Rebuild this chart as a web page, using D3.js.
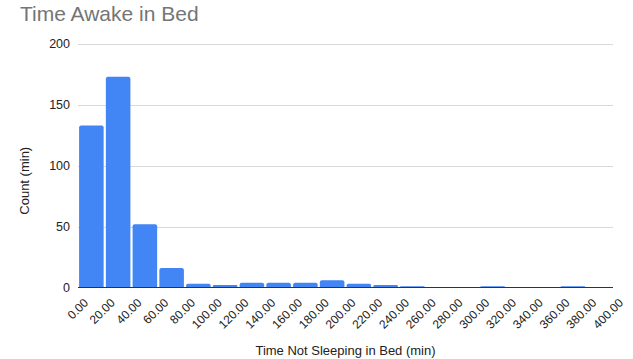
<!DOCTYPE html>
<html>
<head>
<meta charset="utf-8">
<script src="https://cdn.jsdelivr.net/npm/d3@7"></script>
<style>
  html, body { margin: 0; padding: 0; background: #fff; }
  svg { display: block; font-family: "Liberation Sans", Arial, sans-serif; }
</style>
</head>
<body>
<svg id="chart" width="633" height="359"></svg>
<script>
// Histogram bins: lower edges (min) and counts
const binStarts = [0, 20, 40, 60, 80, 100, 120, 140, 160, 180, 200, 220, 240, 260, 280, 300, 320, 340, 360, 380];
const counts    = [133, 173, 52, 16, 3, 2, 4, 4, 4, 6, 3, 2, 1, 0, 0, 1, 0, 0, 1, 0];
const xTickValues = [0, 20, 40, 60, 80, 100, 120, 140, 160, 180, 200, 220, 240, 260, 280, 300, 320, 340, 360, 380, 400];
const yTickValues = [0, 50, 100, 150, 200];

const binWidth = 20;
const svg = d3.select("#chart");
const plotLeft = 78, plotRight = 613, plotTop = 44, plotBottom = 287.5;

const x = d3.scaleLinear().domain([0, 400]).range([plotLeft, plotRight]);
const y = d3.scaleLinear().domain([0, 200]).range([plotBottom, plotTop]);

// Title
svg.append("text")
  .attr("x", 20).attr("y", 20.5)
  .attr("fill", "#757575")
  .attr("font-size", 21)
  .text("Time Awake in Bed");

// Horizontal gridlines
svg.append("g")
  .selectAll("line")
  .data(yTickValues.filter(d => d > 0))
  .join("line")
  .attr("x1", x(0)).attr("x2", x(400))
  .attr("y1", d => Math.round(y(d)) + 0.5).attr("y2", d => Math.round(y(d)) + 0.5)
  .attr("stroke", "#d9d9d9").attr("stroke-width", 1);

// Y tick labels
svg.append("g")
  .selectAll("text")
  .data(yTickValues)
  .join("text")
  .attr("x", 70).attr("y", d => y(d))
  .attr("dy", "0.35em")
  .attr("text-anchor", "end")
  .attr("font-size", 12.5)
  .attr("fill", "#222")
  .text(d => d);

// Bars with slightly rounded tops
const gap = 1.1;
function barPath(start, count) {
  const x0 = x(start) + gap, x1 = x(start + binWidth) - gap;
  const y0 = plotBottom, y1 = y(count);
  const h = y0 - y1;
  const r = Math.min(2, h / 2, (x1 - x0) / 2);
  return `M${x0},${y0}V${y1 + r}Q${x0},${y1} ${x0 + r},${y1}H${x1 - r}Q${x1},${y1} ${x1},${y1 + r}V${y0}Z`;
}
const bins = binStarts.map((s, i) => ({ start: s, count: counts[i] })).filter(b => b.count > 0);
svg.append("g")
  .selectAll("path")
  .data(bins)
  .join("path")
  .attr("d", b => barPath(b.start, b.count))
  .attr("fill", "#4285f4");

// Baseline
svg.append("line")
  .attr("x1", x(0)).attr("x2", x(400))
  .attr("y1", plotBottom).attr("y2", plotBottom)
  .attr("stroke", "#333").attr("stroke-width", 1);

// X tick labels, rotated
svg.append("g")
  .selectAll("text")
  .data(xTickValues)
  .join("text")
  .attr("text-anchor", "end")
  .attr("font-size", 12)
  .attr("fill", "#222")
  .attr("transform", d => `translate(${x(d) + 5},${plotBottom + 10}) rotate(-45)`)
  .attr("dy", "0.7em")
  .text(d => d.toFixed(2));

// Axis titles
svg.append("text")
  .attr("x", (x(0) + x(400)) / 2).attr("y", 355)
  .attr("text-anchor", "middle")
  .attr("font-size", 13)
  .attr("fill", "#222")
  .text("Time Not Sleeping in Bed (min)");

svg.append("text")
  .attr("transform", `translate(29,${(y(0) + y(200)) / 2 + 15}) rotate(-90)`)
  .attr("text-anchor", "middle")
  .attr("font-size", 13)
  .attr("fill", "#222")
  .text("Count (min)");
</script>
</body>
</html>
